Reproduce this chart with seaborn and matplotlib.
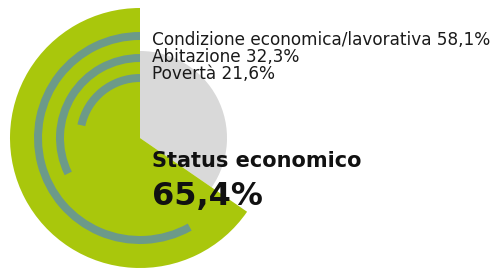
import matplotlib
matplotlib.use("Agg")
import matplotlib.pyplot as plt
import seaborn as sns

# Dati
titolo = "Status economico"
valore_totale = 65.4
voci = ["Condizione economica/lavorativa", "Abitazione", "Povertà"]
valori_voci = [58.1, 32.3, 21.6]

sns.set_theme(style="white")
plt.rcParams['font.family'] = ['DejaVu Sans']

VERDE = "#a9c70c"
GRIGIO = "#d9d9d9"
ARCO = "#6c9a89"

W, H = 500, 268
fig = plt.figure(figsize=(W / 100, H / 100), dpi=100)
fig.patch.set_facecolor("white")

# assi in pixel: centro (140, 138), raggio 130
cx, cy, R = 140, 138, 130
ax = fig.add_axes([(cx - R) / W, (H - cy - R) / H, 2 * R / W, 2 * R / H])

# cerchio grigio (resto)
ax.pie([valore_totale, 100 - valore_totale], radius=87 / R, startangle=90,
       colors=["none", GRIGIO], wedgeprops=dict(linewidth=0))
# spicchio verde
ax.pie([valore_totale, 100 - valore_totale], radius=1, startangle=90,
       colors=[VERDE, "none"], wedgeprops=dict(linewidth=0))

# archi concentrici
raggi = [102, 80, 60]
for v, r in zip(valori_voci, raggi):
    ax.pie([v, 100 - v], radius=(r + 4) / R, startangle=90,
           colors=[ARCO, "none"], wedgeprops=dict(width=8 / R, linewidth=0))

ax.set_xlim(-1, 1)
ax.set_ylim(-1, 1)
ax.set_aspect("equal")
ax.axis("off")

def fmt(v):
    return f"{v:.1f}".replace(".", ",") + "%"

# etichette
tx = 152 / W
for i, (lab, v) in enumerate(zip(voci, valori_voci)):
    fig.text(tx, 1 - (45 + 17 * i) / H, f"{lab} {fmt(v)}", fontsize=12.2,
             color="#1a1a1a", va="baseline", ha="left")

fig.text(tx, 1 - 167 / H, titolo, fontsize=15, fontweight="bold",
         color="#111111", va="baseline", ha="left")
fig.text(tx, 1 - 205 / H, fmt(valore_totale), fontsize=23, fontweight="bold",
         color="#111111", va="baseline", ha="left")

fig.savefig("out.png", dpi=100, facecolor="white")
